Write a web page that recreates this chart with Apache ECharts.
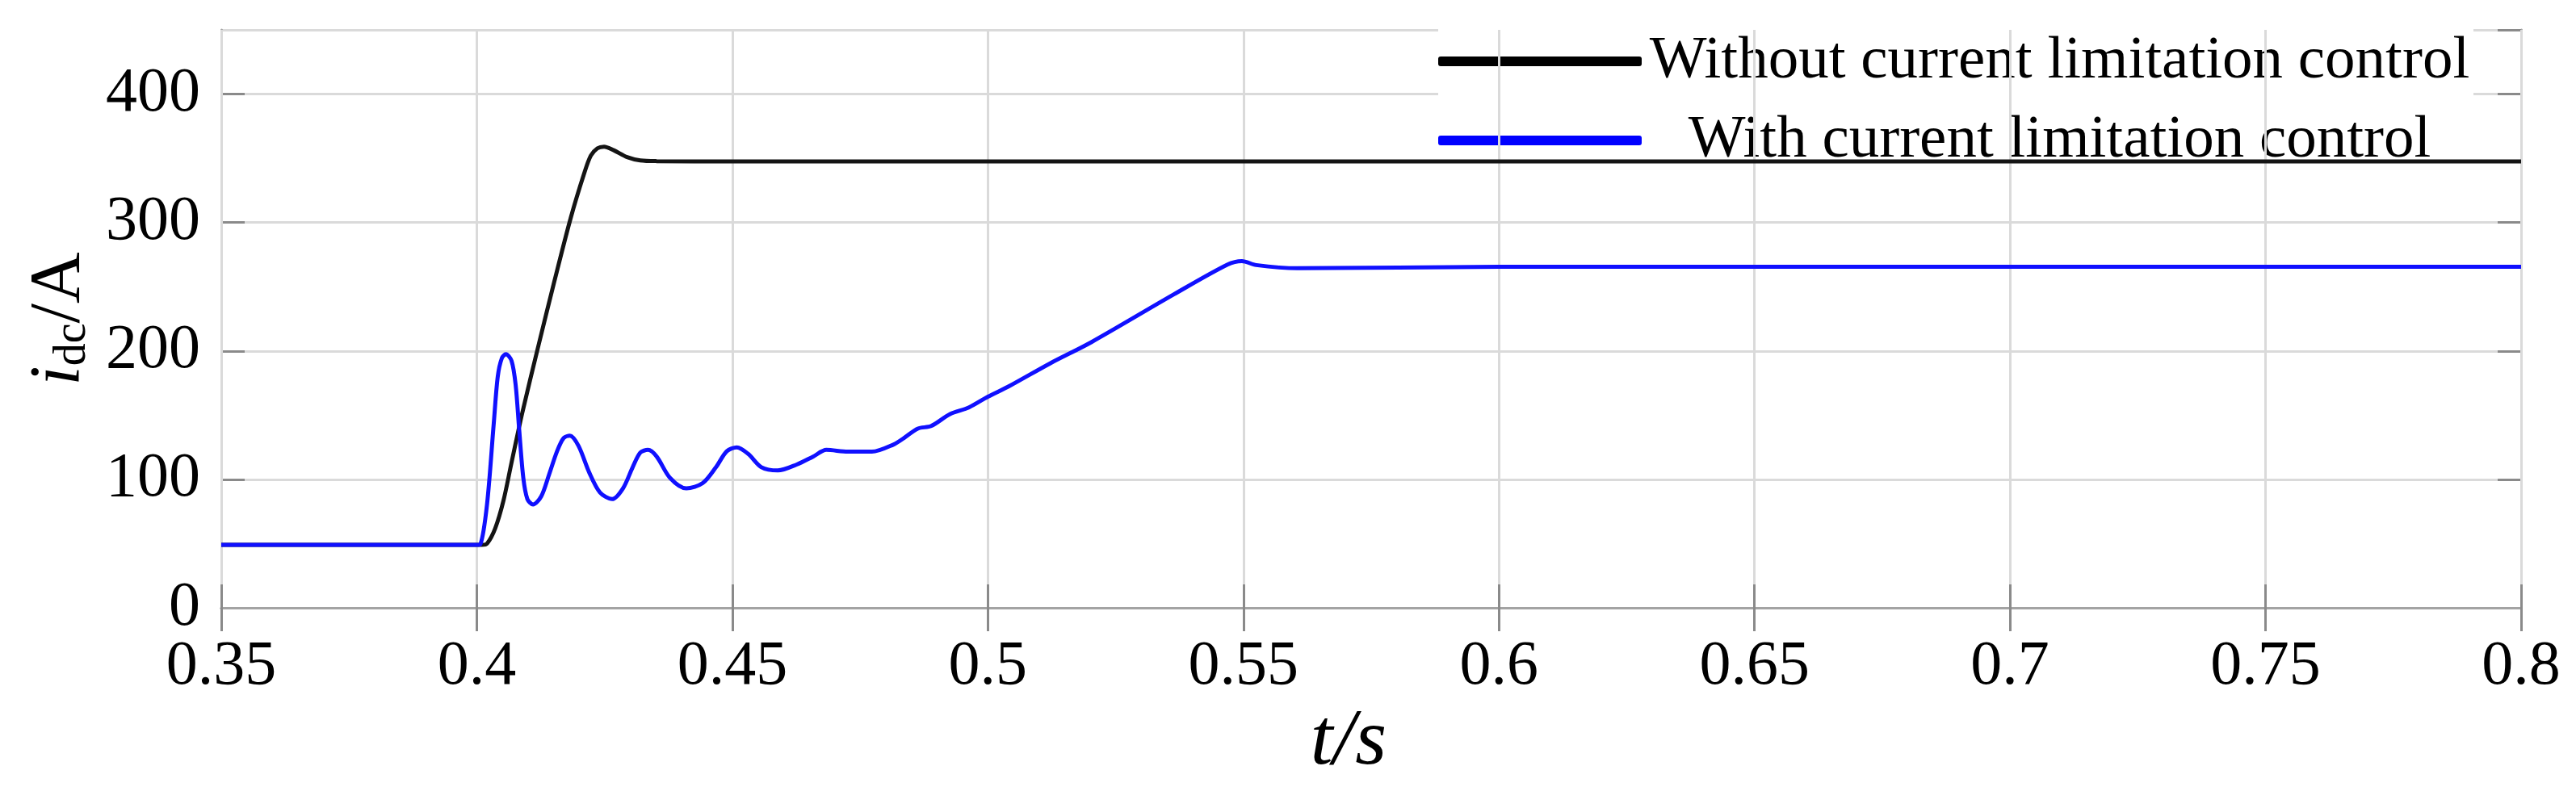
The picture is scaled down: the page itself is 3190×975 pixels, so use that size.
<!DOCTYPE html>
<html>
<head>
<meta charset="utf-8">
<script src="https://cdn.jsdelivr.net/npm/echarts@6/dist/echarts.min.js"></script>
<style>html,body{margin:0;padding:0;background:#fff;}</style>
</head>
<body>
<div id="main" style="width:3190px;height:975px;"></div>
<script type="text/javascript">
var serif = "'Liberation Serif', 'Times New Roman', serif";

// axis ticks
var xTicks = [0.35, 0.4, 0.45, 0.5, 0.55, 0.6, 0.65, 0.7, 0.75, 0.8];
var yTicks = [0, 100, 200, 300, 400];
var yTop = 450;

// without current limitation (black)
var blackT = [0.35, 0.40, 0.4010, 0.4020, 0.4036, 0.4052, 0.4068, 0.4089, 0.4120, 0.4152, 0.4184, 0.4210, 0.4223,
              0.4236, 0.4249, 0.4268, 0.4294, 0.4320, 0.4352, 0.45, 0.55, 0.65, 0.8];
var blackV = [49, 49, 49, 50, 61.9, 83.2, 113.2, 151.8, 203.2, 254.6, 303.9, 338.1, 352,
              357.8, 359.1, 356.3, 351, 348.4, 347.8, 347.5, 347.5, 347.5, 347.5];

// with current limitation (blue)
var blueT = [0.35, 0.40, 0.4007, 0.4020, 0.4033, 0.4041, 0.4049, 0.4057, 0.4068, 0.4076,
             0.4083, 0.4091, 0.4099, 0.4110, 0.4126, 0.4141, 0.4157, 0.4170, 0.4182, 0.4199,
             0.4220, 0.4241, 0.4265, 0.4286, 0.4305, 0.4320, 0.4335, 0.4352, 0.4378, 0.4410,
             0.4442, 0.4468, 0.4489, 0.4509, 0.4531, 0.4557, 0.4589, 0.4626, 0.4658, 0.4684,
             0.4726, 0.4773, 0.4815, 0.4836, 0.4863, 0.4889, 0.4926, 0.4963, 0.5000, 0.5042,
             0.5121, 0.5203, 0.5364, 0.5469, 0.5497, 0.5525, 0.5606, 0.60, 0.70, 0.80];
var blueV = [49, 49, 49.5, 80.5, 142.7, 180, 194.4, 197.5, 192.4, 173.7,
             138.5, 101.2, 84.7, 80.5, 86.8, 103.3, 121.9, 132.3, 134, 126.1,
             105.4, 89.9, 84.7, 93, 109.5, 120.9, 123, 117.8, 101.2, 93,
             97.1, 109.5, 121.9, 125, 119.9, 109.5, 107, 111.6, 117.8, 123,
             121.6, 121.6, 127.1, 132.3, 139.6, 141.6, 150.9, 156.1, 164.4, 172.7,
             190.2, 207, 244.1, 267.3, 270, 266.9, 264.4, 265.5, 265.5, 265.5];

var names = ['Without current limitation control', 'With current limitation control'];

function pairs(t, v) {
    return t.map(function (x, i) { return [x, v[i]]; });
}

var myChart = echarts.init(document.getElementById('main'));

var boxLine = { lineStyle: { color: '#a3a3a3', width: 3 } };
var innerTick = { inside: true, length: 29, lineStyle: { color: '#8a8a8a', width: 3 } };

var option = {
    animation: false,
    backgroundColor: '#fff',
    grid: { left: 274, right: 68, top: 37, bottom: 212 },
    legend: {
        z: 1,
        orient: 'vertical',
        left: 1781,
        top: 36,
        padding: 0,
        itemGap: 18,
        itemWidth: 252,
        itemHeight: 12,
        backgroundColor: '#fff',
        data: [
            { name: names[0], icon: 'roundRect', itemStyle: { color: '#000' } },
            { name: names[1], icon: 'roundRect', itemStyle: { color: '#0000ff' } }
        ],
        formatter: function (n) { return '{c|' + n + '}'; },
        textStyle: {
            color: '#000',
            fontFamily: serif,
            fontSize: 75,
            rich: { c: { fontFamily: serif, fontSize: 75, lineHeight: 80, height: 80, width: 1025, align: 'center' } }
        }
    },
    xAxis: [{
        type: 'value',
        z: 3,
        position: 'bottom',
        min: xTicks[0],
        max: xTicks[xTicks.length - 1],
        interval: 0.05,
        axisLine: boxLine,
        axisTick: innerTick,
        axisLabel: { color: '#000', fontFamily: serif, fontSize: 78, margin: 34 },
        splitLine: { show: true, lineStyle: { color: '#dadada', width: 3 } },
        name: 't/s',
        nameLocation: 'middle',
        nameGap: 96,
        nameTextStyle: { color: '#000', fontFamily: serif, fontStyle: 'italic', fontSize: 100, padding: [0, 56, 0, 0] }
    }, {
        type: 'value',
        z: 3,
        position: 'top',
        min: xTicks[0],
        max: xTicks[xTicks.length - 1],
        interval: 0.05,
        axisLine: boxLine,
        axisTick: innerTick,
        axisLabel: { show: false },
        splitLine: { show: false }
    }],
    yAxis: [{
        type: 'value',
        z: 0,
        position: 'left',
        min: yTicks[0],
        max: yTop,
        interval: 100,
        axisLine: boxLine,
        axisTick: innerTick,
        axisLabel: { color: '#000', fontFamily: serif, fontSize: 78, margin: 26, showMaxLabel: false },
        splitLine: { show: true, lineStyle: { color: '#dadada', width: 3 } },
        name: '{i|i}{s|dc}{n|/A}',
        nameLocation: 'middle',
        nameGap: 156,
        nameTextStyle: {
            color: '#000',
            rich: {
                i: { fontFamily: serif, fontStyle: 'italic', fontSize: 88 },
                s: { fontFamily: serif, fontSize: 56, verticalAlign: 'bottom' },
                n: { fontFamily: serif, fontSize: 88 }
            }
        }
    }, {
        type: 'value',
        z: 0,
        position: 'right',
        min: yTicks[0],
        max: yTop,
        interval: 100,
        axisLine: boxLine,
        axisTick: innerTick,
        axisLabel: { show: false },
        splitLine: { show: false }
    }],
    series: [{
        name: names[0],
        type: 'line',
        z: 5,
        showSymbol: false,
        smooth: 0.3,
        lineStyle: { color: '#141414', width: 5 },
        itemStyle: { color: '#000' },
        data: pairs(blackT, blackV)
    }, {
        name: names[1],
        type: 'line',
        z: 6,
        showSymbol: false,
        smooth: 0.3,
        lineStyle: { color: '#1010ff', width: 5 },
        itemStyle: { color: '#0000ff' },
        data: pairs(blueT, blueV)
    }]
};
myChart.setOption(option);
</script>
</body>
</html>
